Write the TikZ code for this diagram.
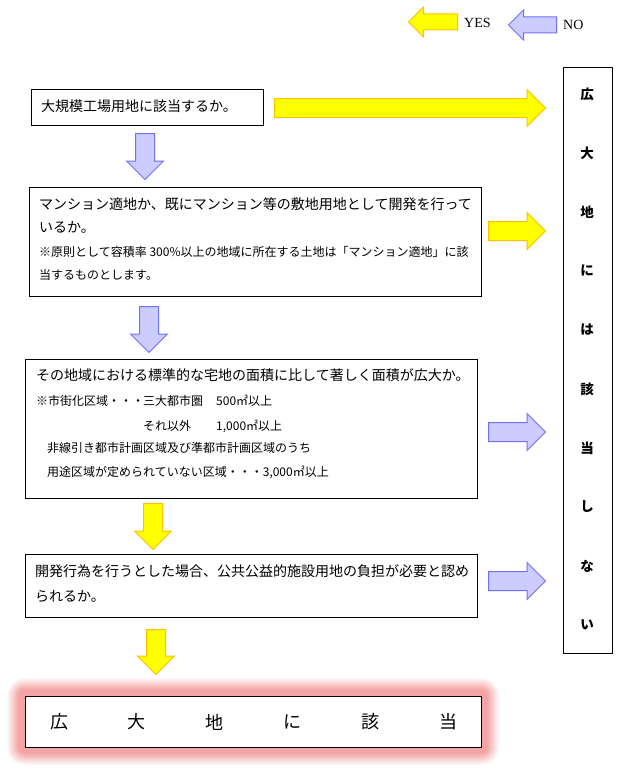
\documentclass[tikz,border=0pt]{standalone}
\usepackage{fontspec}
\setmainfont{Noto Sans CJK JP}
\newfontfamily\latinserif{Liberation Serif}
\usetikzlibrary{shapes.arrows}
\definecolor{yesfill}{HTML}{FFFF00}
\definecolor{yesline}{HTML}{FFC000}
\definecolor{nofill}{HTML}{CCCCFF}
\definecolor{noline}{HTML}{7070FF}
\definecolor{glow}{HTML}{F4A4A4}

\begin{document}
\begin{tikzpicture}[x=1pt,y=-1pt,
  qbox/.style={draw, line width=1pt, inner sep=0pt},
  mtext/.style={anchor=west, inner sep=0pt, font=\fontsize{14}{16}\selectfont, text height=12.3pt, text depth=1.7pt},
  stext/.style={anchor=west, inner sep=0pt, font=\fontsize{12}{14}\selectfont, text height=10.6pt, text depth=1.4pt},
  arr/.style={single arrow, anchor=tail, line width=1pt, inner sep=9pt, minimum width=36pt, single arrow head extend=9pt, single arrow head indent=0pt, single arrow tip angle=90},
  yesarr/.style={arr, draw=yesline, fill=yesfill},
  noarr/.style={arr, draw=noline, fill=nofill}]
\useasboundingbox (0,0) rectangle (630,776);
% legend
\node[yesarr, inner sep=7.5pt, minimum height=49pt, minimum width=29pt, single arrow head extend=7pt, shape border rotate=180] (ly) at (458,22) {};
\node[anchor=west, inner sep=0pt, font=\latinserif\fontsize{14}{16}\selectfont] (lyes) at (464,23) {YES};
\node[noarr, inner sep=7.5pt, minimum height=48pt, minimum width=29pt, single arrow head extend=7pt, shape border rotate=180] (ln) at (557,25) {};
\node[anchor=west, inner sep=0pt, font=\latinserif\fontsize{14}{16}\selectfont] (lno) at (563,25) {NO};
% question boxes
\node[qbox, minimum width=232pt, minimum height=36pt] (q1) at (147,107) {};
\node[mtext] (q1a) at (41,106) {大規模工場用地に該当するか。};
\node[qbox, minimum width=452pt, minimum height=109pt] (q2) at (255,241.5) {};
\node[mtext] (q2a) at (39,204) {マンション適地か、既にマンション等の敷地用地として開発を行って};
\node[mtext] (q2b) at (39,227) {いるか。};
\node[stext] (q2c) at (39,252) {※原則として容積率 300\%以上の地域に所在する土地は「マンション適地」に該};
\node[stext] (q2d) at (39,275) {当するものとします。};
\node[qbox, minimum width=452pt, minimum height=139pt] (q3) at (251,428.5) {};
\node[mtext] (q3a) at (36,375) {その地域における標準的な宅地の面積に比して著しく面積が広大か。};
\node[stext] (q3b) at (36,401) {\makebox[107pt][l]{※市街化区域・・・}\makebox[73pt][l]{三大都市圏}500㎡以上};
\node[stext] (q3c) at (143,426) {\makebox[73pt][l]{それ以外}1,000㎡以上};
\node[stext] (q3d) at (47,448) {非線引き都市計画区域及び準都市計画区域のうち};
\node[stext] (q3e) at (47,472) {用途区域が定められていない区域・・・3,000㎡以上};
\node[qbox, minimum width=452pt, minimum height=63pt] (q4) at (251,585.5) {};
\node[mtext] (q4a) at (35,571) {開発行為を行うとした場合、公共公益的施設用地の負担が必要と認め};
\node[mtext] (q4b) at (35,596) {られるか。};
% not applicable column
\node[qbox, minimum width=49pt, minimum height=585pt] (nk) at (587.5,360.5) {};
\foreach \c [count=\i from 0] in {広,大,地,に,は,該,当,し,な,い}
  \node[inner sep=0pt, font=\bfseries\fontsize{13.5}{16}\selectfont] (nk\i) at (587,94+59*\i) {\c};
% result box with glow
\foreach \i in {18,...,1} {
  \pgfmathtruncatemacro\p{min(100,(19-\i)*8)}
  \fill[glow!\p!white, rounded corners=\i pt] (25-\i,696-\i) rectangle (481+\i,747+\i);
}
\node[qbox, fill=white, minimum width=456pt, minimum height=51pt] (fin) at (253,721.5) {};
\foreach \c [count=\i from 0] in {広,大,地,に,該,当}
  \node[inner sep=0pt, font=\fontsize{18}{20}\selectfont] (fin\i) at (59+77.8*\i,722) {\c};
% yes / no arrows
\node[yesarr, minimum height=271pt] (a1) at (274,108) {};
\node[yesarr, minimum height=57pt] (a2) at (488,231) {};
\node[noarr, minimum height=57pt] (a3) at (488,432) {};
\node[noarr, minimum height=57pt] (a4) at (488,581) {};
\node[noarr, minimum height=46pt, shape border rotate=270] (d1) at (145,133) {};
\node[noarr, minimum height=46pt, shape border rotate=270] (d2) at (149,306) {};
\node[yesarr, minimum height=46pt, shape border rotate=270] (d3) at (153,503) {};
\node[yesarr, minimum height=45pt, shape border rotate=270] (d4) at (156,629) {};
\end{tikzpicture}
\end{document}
